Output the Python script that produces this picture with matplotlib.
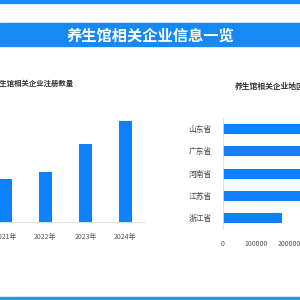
import matplotlib
matplotlib.use('Agg')
import matplotlib.pyplot as plt
from matplotlib.patches import Rectangle

plt.rcParams['font.family'] = ['Noto Sans CJK SC', 'DejaVu Sans']

titre = '养生馆相关企业信息一览'
titre_gauche = '养生馆相关企业注册数量'
titre_droite = '养生馆相关企业地区分布'

annees = ['2021年', '2022年', '2023年', '2024年']
inscriptions = [430, 500, 780, 1010]

provinces = ['山东省', '广东省', '河南省', '江苏省', '浙江省']
entreprises = [400000, 360000, 320000, 300000, 176000]

bleu = '#0d80fb'
W = 300.0


def px(x0, y0, x1, y1):
    # pixels (haut gauche) -> coordonnees figure
    return [x0 / W, 1 - y1 / W, (x1 - x0) / W, (y1 - y0) / W]


fig = plt.figure(figsize=(3, 3), dpi=100)
fig.patch.set_facecolor('white')

# bandeaux
fig.patches.append(Rectangle((0, 1 - 2.5 / W), 1, 2.5 / W, transform=fig.transFigure,
                             color='#1a8ef2', zorder=0))
fig.patches.append(Rectangle((0, 1 - 46 / W), 1, 23 / W, transform=fig.transFigure,
                             color='#1689f5', zorder=0))
fig.patches.append(Rectangle((0, 0), 1, 3 / W, transform=fig.transFigure,
                             color='#2a9ad8', zorder=0))
fig.text(0.5, 1 - 35 / W, titre, ha='center', va='center', color='white',
         fontsize=11, fontweight='bold')

# graphique gauche : barres verticales
ax1 = fig.add_axes(px(-18.5, 100, 145, 222))
ax1.bar(range(len(annees)), inscriptions, width=0.31, color=bleu)
ax1.set_xlim(-0.6, 3.49)
ax1.set_ylim(0, 1220)
ax1.set_xticks(range(len(annees)))
ax1.set_xticklabels(annees, fontsize=5, color='#555555')
ax1.tick_params(axis='x', length=0, pad=8)
ax1.set_yticks([])
for s in ['top', 'right', 'left']:
    ax1.spines[s].set_visible(False)
ax1.spines['bottom'].set_color('#dddddd')
ax1.spines['bottom'].set_linewidth(0.6)
fig.text(-7 / W, 1 - 83 / W, titre_gauche, ha='left', va='center',
         fontsize=5.3, color='#333333', fontweight='bold')

# graphique droite : barres horizontales
ax2 = fig.add_axes(px(222.7, 117.9, 373.5, 229.3))
ax2.barh(range(len(provinces)), entreprises, height=0.45, color=bleu)
ax2.set_ylim(4.5, -0.5)
ax2.set_xlim(0, 450000)
ax2.set_yticks(range(len(provinces)))
ax2.set_yticklabels(provinces, fontsize=5.6, color='#444444')
ax2.set_xticks([0, 100000, 200000])
ax2.set_xticklabels(['0', '100000', '200000'], fontsize=5, color='#555555')
ax2.tick_params(axis='y', length=0, pad=8)
ax2.tick_params(axis='x', length=0, pad=8)
for s in ['top', 'right', 'bottom']:
    ax2.spines[s].set_visible(False)
ax2.spines['left'].set_color('#dddddd')
ax2.spines['left'].set_linewidth(0.6)
fig.text(235 / W, 1 - 86 / W, titre_droite, ha='left', va='center',
         fontsize=5.6, color='#333333', fontweight='bold')

fig.savefig('out.png', dpi=100)
